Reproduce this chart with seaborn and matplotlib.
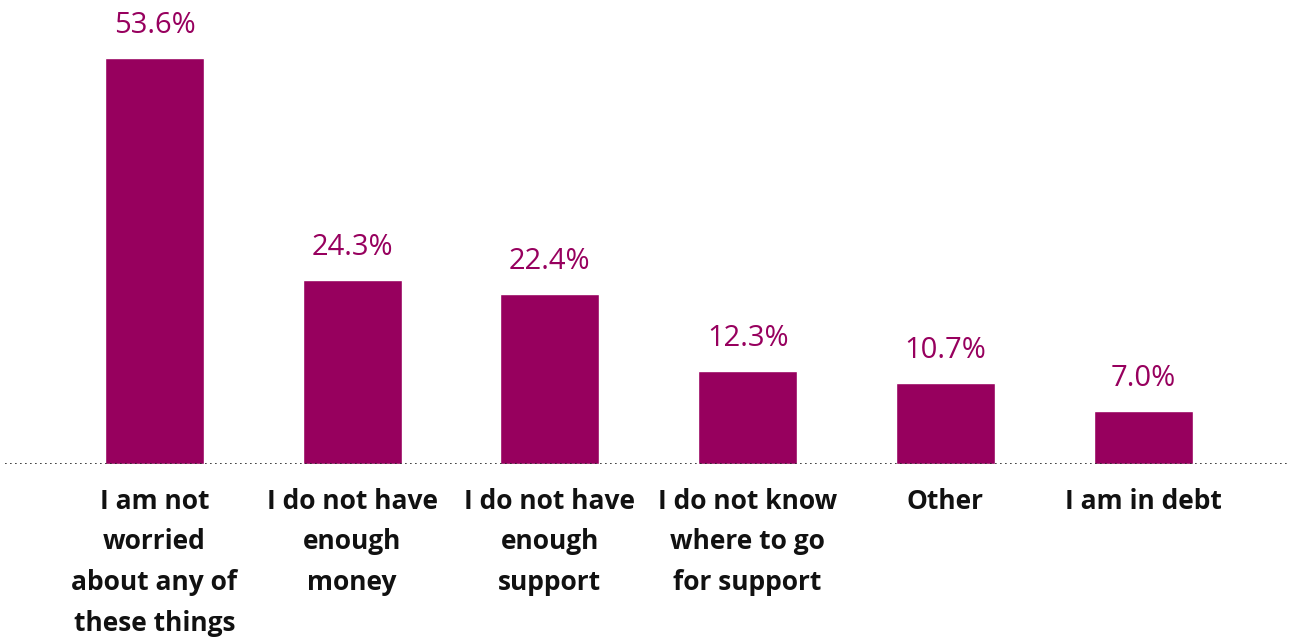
import matplotlib
matplotlib.use("Agg")
import matplotlib.pyplot as plt
import seaborn as sns
import pandas as pd

categories = [
    "I am not\nworried\nabout any of\nthese things",
    "I do not have\nenough\nmoney",
    "I do not have\nenough\nsupport",
    "I do not know\nwhere to go\nfor support",
    "Other",
    "I am in debt",
]
values = [53.6, 24.3, 22.4, 12.3, 10.7, 7.0]
value_labels = ["53.6%", "24.3%", "22.4%", "12.3%", "10.7%", "7.0%"]

BAR_COLOR = "#97005E"

sns.set_theme(style="white")
plt.rcParams["font.family"] = ["Open Sans", "DejaVu Sans"]

df = pd.DataFrame({"category": categories, "value": values})

fig = plt.figure(figsize=(12.92, 6.37), dpi=100)
ax = fig.add_axes([5 / 1292, (637 - 464) / 637, 1285 / 1292, 464 / 637])

sns.barplot(data=df, x="category", y="value", color=BAR_COLOR, width=0.5,
            saturation=1, ax=ax)

ax.set_xlim(-0.756, 5.743)
ax.set_ylim(0, 61.2)

# dotted baseline
ax.axhline(0, color="#222222", linestyle=(0, (1, 2)), linewidth=1.2, zorder=5)

for i, (v, lab) in enumerate(zip(values, value_labels)):
    ax.annotate(lab, xy=(i, v), xytext=(0, 13), textcoords="offset points",
                ha="center", va="bottom", fontsize=21, color=BAR_COLOR,
                fontweight="normal")

ax.set_xlabel("")
ax.set_ylabel("")
ax.set_yticks([])
ax.tick_params(axis="x", length=0, pad=17)
for t in ax.get_xticklabels():
    t.set_fontsize(19)
    t.set_fontweight("bold")
    t.set_color("#111111")
    t.set_linespacing(1.65)
    t.set_verticalalignment("top")
sns.despine(ax=ax, left=True, bottom=True)

fig.savefig("out.png", dpi=100, facecolor="white")
